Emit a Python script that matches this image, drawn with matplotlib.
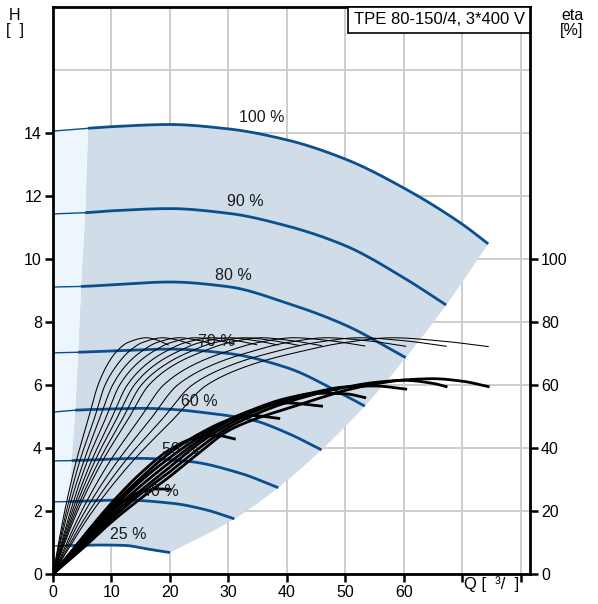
import numpy as np
import matplotlib
matplotlib.use("Agg")
import matplotlib.pyplot as plt
from matplotlib.patches import Rectangle

plt.rcParams['font.family'] = ['Liberation Sans', 'DejaVu Sans']

# ---------------- data ----------------
speeds = ["100 %", "90 %", "80 %", "70 %", "60 %", "50 %", "40 %", "25 %"]

h_q = [
    [0, 6, 10, 20, 30, 40, 50, 60, 70, 74.4],
    [0, 5.5, 10, 20, 30, 40, 50, 60, 67.2],
    [0, 5, 10, 20, 30, 40, 50, 60.3],
    [0, 4.3, 10, 20, 30, 40, 49, 53.3],
    [0, 3.8, 10, 15, 20, 26, 34, 40, 45.9],
    [0, 3.2, 10, 15, 23.4, 32, 38.5],
    [0, 2.8, 12, 20.6, 26.3, 31],
    [0, 2.2, 8, 12, 16.6, 20],
]
h_h = [
    [14.06, 14.15, 14.2, 14.27, 14.13, 13.78, 13.17, 12.25, 11.1, 10.48],
    [11.43, 11.47, 11.53, 11.6, 11.45, 11.05, 10.42, 9.4, 8.54],
    [9.11, 9.13, 9.18, 9.27, 9.12, 8.6, 7.9, 6.87],
    [7.02, 7.04, 7.08, 7.14, 7.0, 6.55, 5.76, 5.33],
    [5.14, 5.2, 5.24, 5.26, 5.23, 5.12, 4.89, 4.48, 3.94],
    [3.59, 3.6, 3.65, 3.67, 3.57, 3.2, 2.74],
    [2.29, 2.3, 2.35, 2.24, 2.03, 1.75],
    [0.89, 0.9, 0.92, 0.91, 0.78, 0.68],
]
# minimum-flow (start of thick part) per speed curve
q_min = [6.0, 5.5, 4.8, 4.3, 3.8, 3.2, 2.8, 2.2]

label_q = [35.7, 32.8, 30.8, 28.0, 25.0, 21.7, 18.3, 12.8]
label_h = [14.48, 11.81, 9.49, 7.37, 5.49, 3.94, 2.63, 1.24]

# thin eta curves (pump efficiency) [%]
eta_p_q = [
    [0, 2.0, 4.0, 6.0, 7.7, 9.3, 10.8, 12.8, 16.0, 17.9, 19.7],
    [0, 2.3, 4.6, 7.0, 8.9, 11.0, 12.9, 15.3, 18.8, 21.2, 23.5],
    [0, 2.6, 5.3, 7.9, 10.2, 12.6, 15.0, 17.8, 21.6, 24.5, 27.3],
    [0, 3.0, 5.9, 8.9, 11.4, 14.2, 17.0, 20.2, 24.4, 27.7, 31.0],
    [0, 3.3, 6.6, 9.9, 12.7, 15.9, 19.1, 22.7, 27.2, 31.0, 34.8],
    [0, 3.6, 7.2, 10.8, 13.9, 17.5, 21.2, 25.2, 30.0, 34.2, 38.5],
    [0, 3.9, 7.9, 11.8, 15.1, 19.2, 23.3, 27.7, 32.8, 37.5, 42.2],
    [0, 4.2, 8.5, 12.8, 16.4, 20.8, 25.4, 30.2, 35.6, 40.7, 45.9],
    [0, 4.9, 9.8, 14.7, 18.9, 24.1, 29.5, 35.1, 41.2, 47.2, 53.3],
    [0, 5.5, 11.1, 16.6, 21.3, 27.4, 33.7, 40.1, 46.8, 53.5, 60.3],
    [0, 6.2, 12.4, 18.6, 23.8, 30.7, 37.8, 45.0, 52.4, 59.8, 67.2],
    [0, 6.8, 13.7, 20.5, 26.3, 34.0, 42.0, 50.0, 58.0, 66.2, 74.4],
]
eta_p_v = [
    [0, 20, 36, 49, 60, 66.5, 70.5, 73.5, 75.0, 74.2, 72.7],
    [0, 20, 36, 49, 60, 66.5, 70.5, 73.5, 75.0, 74.3, 73.0],
    [0, 20, 36, 49, 60, 66.5, 70.5, 73.5, 75.0, 74.3, 73.0],
    [0, 20, 36, 49, 60, 66.5, 70.5, 73.5, 75.0, 74.3, 73.0],
    [0, 20, 36, 49, 60, 66.5, 70.5, 73.5, 75.0, 74.2, 72.8],
    [0, 20, 36, 49, 60, 66.5, 70.5, 73.5, 75.0, 74.2, 72.7],
    [0, 20, 36, 49, 60, 66.5, 70.5, 73.5, 75.0, 74.1, 72.5],
    [0, 20, 36, 49, 60, 66.5, 70.5, 73.5, 75.0, 74.1, 72.5],
    [0, 20, 36, 49, 60, 66.5, 70.5, 73.5, 75.0, 74.1, 72.4],
    [0, 20, 36, 49, 60, 66.5, 70.5, 73.5, 75.0, 74.1, 72.3],
    [0, 20, 36, 49, 60, 66.5, 70.5, 73.5, 75.0, 74.1, 72.3],
    [0, 20, 36, 49, 60, 66.5, 70.5, 73.5, 75.0, 74.0, 72.2],
]

# thick eta curves (total efficiency) [%]
eta_t_q = [
    [0, 5, 10, 15, 20, 25, 30, 35, 40, 45, 50, 55, 60, 65, 70, 74.4],
    [0, 5, 10, 15, 20, 25, 30, 35, 40, 45, 50, 55, 60, 65, 67.2],
    [0, 5, 10, 15, 20, 25, 30, 35, 40, 45, 50, 55, 60.3],
    [0, 5, 10, 15, 20, 25, 30, 35, 40, 45, 50, 53.3],
    [0, 5, 10, 15, 20, 25, 30, 35, 40, 45.9],
    [0, 5, 10, 15, 20, 25, 30, 34, 38.6],
    [0, 5, 10, 15, 20, 24, 28, 31],
    [0, 3, 6, 9, 12, 15, 18, 20],
]
eta_t_v = [
    [0, 8, 16.5, 24, 31, 38.5, 45.5, 49.5, 52.5, 55.5, 58.3, 60.3, 61.6, 62, 61.2, 59.5],
    [0, 9, 17.5, 25.5, 32.5, 40, 46.5, 51, 54.5, 57.2, 59.3, 60.8, 61.5, 60.5, 59.5],
    [0, 9.5, 18.5, 26.5, 34, 41.5, 47.5, 52, 55.3, 57.8, 59.4, 59.7, 58.7],
    [0, 10, 19.5, 28, 35.5, 42.5, 48.5, 52.8, 55.8, 57.4, 57.2, 56],
    [0, 10.5, 20.5, 29.5, 37, 43.5, 49, 52.5, 54.3, 53.3],
    [0, 11, 21.5, 30.5, 38.5, 44.5, 48.8, 50.3, 49.4],
    [0, 11.5, 22.5, 32, 39.5, 43, 44, 42.9],
    [0, 6, 12, 18, 23, 26.1, 27, 26.9],
]

title_text = "TPE 80-150/4, 3*400 V"
x_ticks = [0, 10, 20, 30, 40, 50, 60, 70, 80]
x_labels = ["0", "10", "20", "30", "40", "50", "60", "", ""]
y_ticks = [0, 2, 4, 6, 8, 10, 12, 14]
eta_ticks = [0, 20, 40, 60, 80, 100]

# ---------------- helpers ----------------
def pchip(x, y, xn):
    x = np.asarray(x, float); y = np.asarray(y, float)
    h = np.diff(x); d = np.diff(y) / h
    m = np.zeros_like(y)
    for k in range(1, len(x) - 1):
        if d[k - 1] * d[k] > 0:
            w1 = 2 * h[k] + h[k - 1]; w2 = h[k] + 2 * h[k - 1]
            m[k] = (w1 + w2) / (w1 / d[k - 1] + w2 / d[k])
    m[0] = d[0]; m[-1] = d[-1]
    idx = np.clip(np.searchsorted(x, xn) - 1, 0, len(x) - 2)
    t = (xn - x[idx]) / h[idx]
    h00 = 2 * t**3 - 3 * t**2 + 1; h10 = t**3 - 2 * t**2 + t
    h01 = -2 * t**3 + 3 * t**2; h11 = t**3 - t**2
    return h00 * y[idx] + h10 * h[idx] * m[idx] + h01 * y[idx + 1] + h11 * h[idx] * m[idx + 1]

def curve(x, y, x0=None, x1=None, n=200):
    a = x[0] if x0 is None else x0
    b = x[-1] if x1 is None else x1
    xs = np.linspace(a, b, n)
    return xs, pchip(x, y, xs)

# ---------------- figure ----------------
W, H = 598, 604
fig = plt.figure(figsize=(W / 100, H / 100), dpi=100)
ax = fig.add_axes([53 / W, 1 - 574 / H, (530 - 53) / W, (574 - 7) / H])
ax.set_xlim(0, 81.54)
ax.set_ylim(0, 18)

blue = "#0b4f8e"
dark_fill = "#d0dce8"
pale_fill = "#eef6fd"

# shaded regions
q_end = [q[-1] for q in h_q]
h_end = [h[-1] for h in h_h]
h_at_min = [float(pchip(q, h, np.array([qm]))[0]) for q, h, qm in zip(h_q, h_h, q_min)]

top_x, top_y = curve(h_q[0], h_h[0], q_min[0], None)
bot_x, bot_y = curve(h_q[-1], h_h[-1], q_min[-1], None)
end_x, end_y = curve(q_end[::-1], h_end[::-1])
poly_x = np.concatenate([top_x, end_x[::-1], bot_x[::-1], q_min[::-1]])
poly_y = np.concatenate([top_y, end_y[::-1], bot_y[::-1], h_at_min[::-1]])
ax.fill(poly_x, poly_y, color=dark_fill, lw=0, zorder=1)

ptop_x, ptop_y = curve(h_q[0], h_h[0], 0, q_min[0])
pbot_x, pbot_y = curve(h_q[-1], h_h[-1], 0, q_min[-1])
pale_x = np.concatenate([ptop_x, q_min[1:], pbot_x[::-1]])
pale_y = np.concatenate([ptop_y, h_at_min[1:], pbot_y[::-1]])
ax.fill(pale_x, pale_y, color=pale_fill, lw=0, zorder=1)

# grid
for gx in x_ticks:
    ax.axvline(gx, color="#cdcdcd", lw=1.4, zorder=0.5)
for gy in range(0, 18, 2):
    ax.axhline(gy, color="#cdcdcd", lw=1.4, zorder=0.5)

# H curves
for q, h, qm, lab, lq, lh in zip(h_q, h_h, q_min, speeds, label_q, label_h):
    xs, ys = curve(q, h, 0, qm)
    ax.plot(xs, ys, color=blue, lw=1.0, zorder=3)
    xs, ys = curve(q, h, qm, None)
    ax.plot(xs, ys, color=blue, lw=2.0, zorder=3, solid_capstyle="butt")
    ax.text(lq, lh, lab, fontsize=11.5, ha="center", va="center", color="#1a1a1a", zorder=5)

# eta curves (on eta scale: 10 % per H unit)
for q, v in zip(eta_p_q, eta_p_v):
    xs, ys = curve(q, v)
    ax.plot(xs, ys / 10.0, color="black", lw=0.75, zorder=4)
for q, v in zip(eta_t_q, eta_t_v):
    xs, ys = curve(q, v)
    ax.plot(xs, ys / 10.0, color="black", lw=2.0, zorder=4)

# axes styling
for s in ["left", "bottom", "right", "top"]:
    ax.spines[s].set_linewidth(2.0)
    ax.spines[s].set_color("black")
    ax.spines[s].set_zorder(6)
ax.set_xticks(x_ticks)
ax.set_xticklabels(x_labels)
ax.set_yticks(y_ticks)
ax.set_yticklabels([str(t) for t in y_ticks])
ax.tick_params(direction="out", length=6, width=1.8, labelsize=11.5, pad=2)

ax2 = ax.twinx()
ax2.set_ylim(0, 180)
ax2.set_yticks(eta_ticks)
ax2.set_yticklabels([str(t) for t in eta_ticks])
ax2.tick_params(direction="out", length=6, width=1.8, labelsize=11.5, pad=2)
for s in ax2.spines.values():
    s.set_visible(False)

fig.text(464 / W, 1 - 584 / H, "Q [  \u00b3/  ]", fontsize=12, ha="left", va="center")
fig.text(15 / W, 1 - 15 / H, "H", fontsize=11.5, ha="center", va="center")
fig.text(15 / W, 1 - 30 / H, "[  ]", fontsize=11.5, ha="center", va="center")
fig.text(572 / W, 1 - 15 / H, "eta", fontsize=11.5, ha="center", va="center")
fig.text(572 / W, 1 - 30 / H, "[%]", fontsize=11.5, ha="center", va="center")

# title box
bx0 = (348 - 53) / (530 - 53)
by0 = (574 - 33) / (574 - 7)
ax.add_patch(Rectangle((bx0, by0), 1 - bx0, 1 - by0, transform=ax.transAxes,
                       fc="white", ec="black", lw=1.2, zorder=7, clip_on=False))
ax.text((bx0 + 1) / 2, (by0 + 1) / 2, title_text, transform=ax.transAxes, fontsize=12,
        ha="center", va="center", zorder=8)

fig.savefig("out.png", dpi=100)
